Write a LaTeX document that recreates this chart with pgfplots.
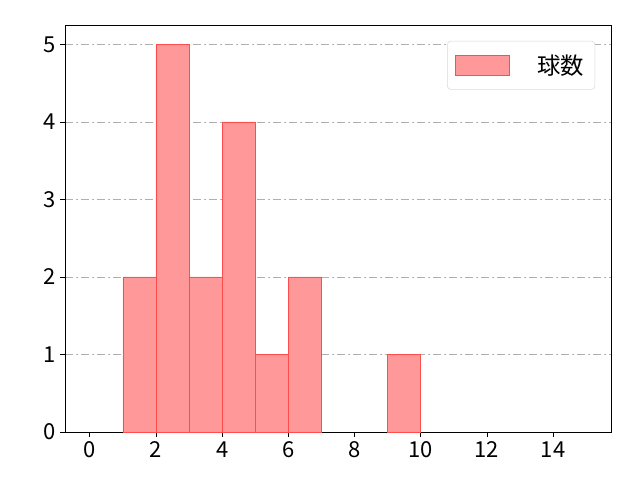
\documentclass[border=0pt]{standalone}
\usepackage{fontspec}
\setmainfont{Noto Sans CJK JP}
\usepackage{pgfplots}
\pgfplotsset{compat=1.18}
\definecolor{barfill}{RGB}{255,153,153}
\definecolor{baredge}{RGB}{255,77,77}
\definecolor{gridgray}{RGB}{176,176,176}
\begin{document}
\begin{tikzpicture}
\begin{axis}[
  scale only axis,
  width=409.5pt, height=305.25pt,
  xmin=-0.75, xmax=15.75,
  ymin=0, ymax=5.25,
  xtick={0,2,...,14},
  ytick={0,1,...,5},
  tick align=outside,
  tick pos=left,
  major tick length=3.6pt,
  every tick/.style={black, line width=0.6pt},
  axis line style={line width=0.6pt},
  ymajorgrids,
  grid style={gridgray, line width=0.6pt, dash pattern=on 6pt off 2.5pt on 1pt off 2.5pt},
  tick label style={font=\fontsize{16.5}{19}\selectfont},
  /pgf/number format/assume math mode=true,
  legend style={at={(0.971,0.961)}, anchor=north east, draw=gray!30, rounded corners=2.5pt,
    font=\fontsize{17.5}{21}\selectfont, inner xsep=6pt, inner ysep=8pt},
  legend image code/.code={\draw[#1, sharp corners] (0pt,-7.5pt) rectangle (40pt,7.5pt);},
  legend cell align=left,
]
\addplot[ybar interval, fill=barfill, draw=baredge, line width=0.6pt] coordinates {
  (1,2) (2,5) (3,2) (4,4) (5,1) (6,2) (7,2)
};
\addlegendentry{\hspace{19pt}球数}
\addplot[ybar interval, fill=barfill, draw=baredge, line width=0.6pt, forget plot] coordinates {
  (9,1) (10,1)
};
\end{axis}
\path[use as bounding box] (-48.75pt,-36pt) rectangle (431.25pt,324pt);
\end{tikzpicture}
\end{document}
